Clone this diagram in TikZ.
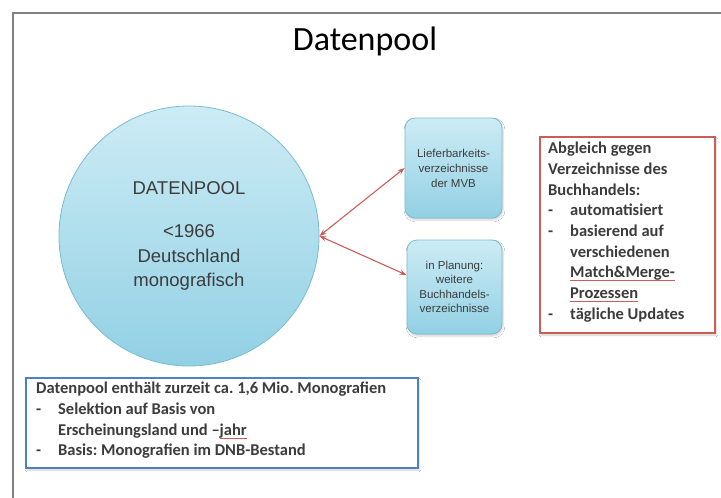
\documentclass[tikz,border=0pt]{standalone}
\usepackage{fontspec}
\setmainfont{Carlito}
\newfontfamily\arialfont{Liberation Sans}
\definecolor{poolblue}{RGB}{146,208,228}
\definecolor{poolbluelight}{RGB}{205,236,245}
\definecolor{poolborder}{RGB}{120,188,208}
\definecolor{arrowred}{RGB}{204,92,88}
\definecolor{noteblue}{RGB}{79,129,189}
\definecolor{framegray}{RGB}{128,128,128}
\definecolor{textgray}{RGB}{60,60,60}
\usetikzlibrary{arrows.meta,positioning,shadows.blur}

\newcommand\lstdash{\makebox[22pt][l]{-}}
\newcommand\lstind{\hspace*{22pt}}
\newcommand\spell[1]{\setbox0\hbox{#1}\rlap{\textcolor{arrowred}{\rule[-0.35ex]{\wd0}{0.5pt}}}\box0}
\frenchspacing

\begin{document}
\begin{tikzpicture}[x=1pt,y=-1pt,
    poolshade/.style={top color=poolbluelight, bottom color=poolblue, draw=poolborder, line width=0.8pt},
    listbox/.style={anchor=north west, align=left, text=textgray, inner sep=0pt,
      font=\fontsize{16.5}{20.7}\selectfont\bfseries},
    softshadow/.style={blur shadow={shadow xshift=1pt, shadow yshift=-2pt, shadow blur steps=6, shadow opacity=18}},
    link/.style={arrowred, line width=1.1pt, {Stealth[length=7pt,width=5pt]}-{Stealth[length=7pt,width=5pt]}}]
  \useasboundingbox (0,0) rectangle (721,498);
  \fill[white] (0,0) rectangle (721,498);
  \draw[framegray, line width=1.5pt] (13,498) -- (13,13) -- (721,13);

  % title
  \node (title) at (365,41) {\fontsize{34}{40}\selectfont Datenpool};

  % pool
  \node[circle, poolshade, minimum size=260pt, inner sep=0pt, align=center, text=textgray,
        font=\arialfont\fontsize{18.5}{24.5}\selectfont] (pool) at (189,236)
    {DATENPOOL\\[19pt]<1966\\Deutschland\\monografisch};

  % sources
  \node[rounded corners=10pt, poolshade, softshadow, minimum width=97pt, minimum height=100pt,
        align=center, text=textgray, font=\arialfont\fontsize{11.5}{15}\selectfont] (mvb) at (453.5,168)
    {Lieferbarkeits-\\verzeichnisse\\der MVB};
  \node[rounded corners=10pt, poolshade, softshadow, minimum width=95pt, minimum height=94pt,
        align=center, text=textgray, font=\arialfont\fontsize{11.5}{14.5}\selectfont] (plan) at (454.5,287)
    {in Planung:\\weitere\\Buchhandels-\\verzeichnisse};

  \draw[link] (pool.east) -- (mvb.west);
  \draw[link] (pool.east) -- (plan.166);

  % notes
  \draw[arrowred, line width=2pt, fill=white, softshadow] (540,137) rectangle (715,333);
  \node[listbox] (match) at (548,142)
    {Abgleich gegen\\Verzeichnisse des\\Buchhandels:\\
     \lstdash automatisiert\\\lstdash basierend auf\\\lstind verschiedenen\\
     \lstind \spell{Match\&Merge-}\\\lstind \spell{Prozessen}\\\lstdash tägliche Updates};

  \draw[noteblue, line width=1.5pt, fill=white, softshadow] (26,378) rectangle (418,468);
  \node[listbox] (stock) at (36,382)
    {Datenpool enthält zurzeit ca. 1,6 Mio. Monografien\\
     \lstdash Selektion auf Basis von\\\lstind Erscheinungsland und –\spell{jahr}\\
     \lstdash Basis: Monografien im DNB-Bestand};
\end{tikzpicture}
\end{document}
